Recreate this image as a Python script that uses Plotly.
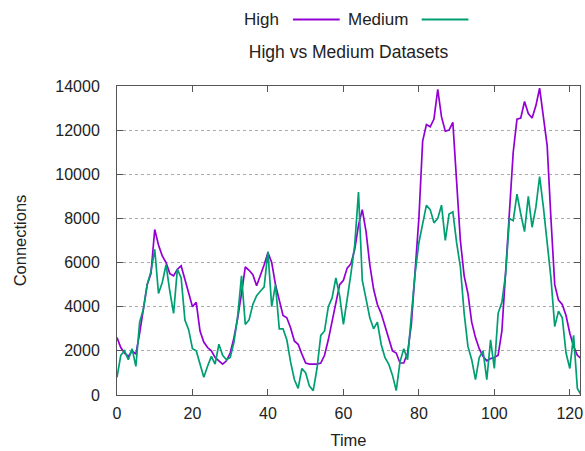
import plotly.graph_objects as go

time = list(range(0, 124))

high = [2600, 2150, 1900, 1750, 2000, 1850, 2800, 3800, 5000, 5500,
        7500, 6800, 6300, 6000, 5500, 5400, 5700, 5850, 5200, 4600,
        4000, 4200, 2900, 2400, 2150, 2000, 1700, 1550, 1400, 1550,
        1900, 2600, 3500, 4600, 5800, 5650, 5450, 4950, 5400, 5900,
        6450, 6000, 5000, 4250, 3600, 3500, 3050, 2450, 2300, 1850,
        1450, 1400, 1400, 1400, 1450, 1800, 2500, 3350, 4200, 5000,
        5200, 5750, 5950, 6600, 7700, 8400, 7400, 5900, 4800, 4100,
        3700, 3100, 2600, 2000, 1900, 1450, 1450, 1900, 3200, 5500,
        8000, 11500, 12250, 12150, 12500, 13850, 12600, 11950, 12000, 12350,
        9800, 7000, 5400, 4600, 3300, 2600, 2100, 1750, 1550, 1650,
        1700, 1800, 2900, 5500, 8500, 11000, 12500, 12550, 13300, 12750,
        12550, 13100, 13900, 12600, 11300, 8000, 5000, 4300, 4100, 3600,
        2800, 2200, 1800, 1650]

medium = [800, 1800, 2000, 1600, 2100, 1300, 3300, 3900, 5000, 5600,
          6600, 4600, 5100, 5900, 4700, 3700, 5700, 5300, 3400, 2950,
          2100, 2000, 1400, 800, 1300, 1750, 1400, 2300, 1800, 1600,
          1700, 2400, 3600, 5400, 3200, 3400, 4100, 4500, 4700, 4900,
          6500, 4000, 5000, 3000, 3000, 2500, 1500, 700, 300, 1200,
          1000, 400, 200, 1200, 2700, 2900, 4000, 4400, 5300, 4500,
          3200, 4300, 5500, 6800, 9200, 5200, 4400, 3500, 3000, 3300,
          2300, 1700, 1400, 900, 200, 1500, 2100, 1600, 3600, 5500,
          6900, 7800, 8600, 8400, 7800, 8000, 8600, 7000, 8200, 8300,
          6900, 5800, 3700, 2200, 1600, 700, 1700, 2000, 700, 2500,
          1200, 3700, 4200, 5500, 8000, 7900, 9100, 8200, 7400, 9000,
          7600, 8500, 9900, 8500, 6900, 5300, 3100, 3800, 3500, 1900,
          1200, 2700, 300, 0]

series_names = ["High", "Medium"]
colors = ["#9400D3", "#009E73"]
y_ticks = [0, 2000, 4000, 6000, 8000, 10000, 12000, 14000]
x_ticks = [0, 20, 40, 60, 80, 100, 120]

FONT = "Liberation Sans, Arial, sans-serif"
TXT = "#222222"

fig = go.Figure()
for name, vals, col in zip(series_names, [high, medium], colors):
    fig.add_trace(go.Scatter(x=time, y=vals, mode="lines", name=name,
                             line=dict(color=col, width=1.7),
                             showlegend=False))

axis_common = dict(showline=True, linecolor="#555555", linewidth=1,
                   mirror="allticks", ticks="inside", ticklen=6,
                   tickcolor="#555555", zeroline=False, automargin=False,
                   tickfont=dict(family=FONT, size=16, color=TXT))

fig.update_xaxes(range=[0, 122.7], tickvals=x_ticks, showgrid=False,
                 ticklabelstandoff=4,
                 title=dict(text="Time", font=dict(family=FONT, size=16.5, color=TXT),
                            standoff=13),
                 **axis_common)
fig.update_yaxes(range=[0, 14000], tickvals=y_ticks, tickformat="d", showgrid=True,
                 gridcolor="#aaaaaa", griddash="dot", gridwidth=1,
                 ticklabelstandoff=13,
                 title=dict(text="Connections", font=dict(family=FONT, size=16.5, color=TXT),
                            standoff=24),
                 **axis_common)

# legend drawn gnuplot style: text then line sample
LEG_Y = 1.215
legend_items = [("High", 0.354, 0.380, 0.481, colors[0]),
                ("Medium", 0.632, 0.658, 0.759, colors[1])]
annotations = []
shapes = []
for text, tx, x0, x1, col in legend_items:
    annotations.append(dict(text=text, x=tx, y=LEG_Y, xref="paper", yref="paper",
                            xanchor="right", yanchor="middle", showarrow=False,
                            font=dict(family=FONT, size=17, color=TXT)))
    shapes.append(dict(type="line", x0=x0, x1=x1, y0=LEG_Y, y1=LEG_Y,
                       xref="paper", yref="paper", line=dict(color=col, width=2)))

fig.update_layout(
    width=585, height=451,
    margin=dict(l=117, r=5, t=86, b=56),
    paper_bgcolor="white", plot_bgcolor="white",
    title=dict(text="High vs Medium Datasets", x=0.5, xref="paper",
               y=1 - 52 / 451, yref="container", yanchor="middle", xanchor="center",
               font=dict(family=FONT, size=17.5, color=TXT)),
    annotations=annotations, shapes=shapes,
    font=dict(family=FONT, size=16.5, color=TXT),
)

fig.write_html("out.html", config={"displayModeBar": False},
               post_script="document.body.style.margin='0';")
